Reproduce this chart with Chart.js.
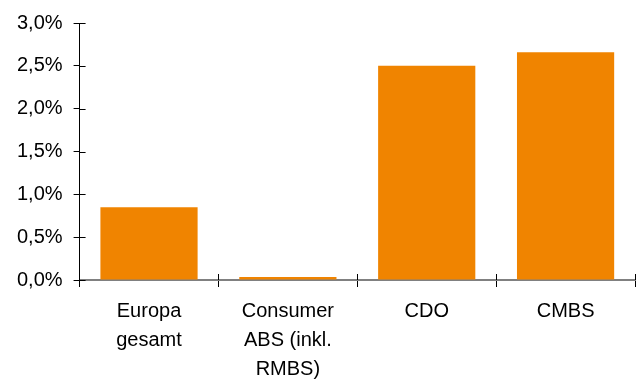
<!DOCTYPE html>
<html>
<head>
<meta charset="utf-8">
<script src="https://cdn.jsdelivr.net/npm/chart.js@4/dist/chart.umd.min.js"></script>
<style>
  html, body { margin: 0; padding: 0; background: #fff; }
  #wrap { width: 639px; height: 383px; }
</style>
</head>
<body>
<div id="wrap"><canvas id="chart" width="639" height="383"></canvas></div>
<script>
// categories and values (in %)
const categories = [
  ["Europa", "gesamt"],
  ["Consumer", "ABS (inkl.", "RMBS)"],
  "CDO",
  "CMBS"
];
const defaultRates = [0.85, 0.035, 2.50, 2.66];
const yMin = 0;
const yMax = 3;
const yStep = 0.5;

const barColor = "#F08400";
const fontFamily = "'Liberation Sans', Arial, sans-serif";

// the original ticks cross the axis, chart.js only draws the outer half
const innerTicks = {
  id: "innerTicks",
  afterDatasetsDraw(chart) {
    const { ctx, chartArea, scales } = chart;
    const len = 6;
    ctx.save();
    ctx.strokeStyle = "#000";
    ctx.lineWidth = 1;
    ctx.beginPath();
    scales.y.ticks.forEach((t, i) => {
      const y = Math.round(scales.y.getPixelForTick(i)) + 0.5;
      ctx.moveTo(chartArea.left, y);
      ctx.lineTo(chartArea.left + len, y);
    });
    for (let i = 1; i <= categories.length; i++) {
      const x = Math.round(scales.x.getPixelForValue(i - 0.5)) + 0.5;
      ctx.moveTo(x, chartArea.bottom);
      ctx.lineTo(x, chartArea.bottom - len);
    }
    ctx.stroke();
    ctx.restore();
  }
};

new Chart(document.getElementById("chart").getContext("2d"), {
  type: "bar",
  data: {
    labels: categories,
    datasets: [{
      data: defaultRates,
      backgroundColor: barColor,
      borderWidth: 0,
      categoryPercentage: 0.7,
      barPercentage: 1.0
    }]
  },
  options: {
    responsive: false,
    animation: false,
    layout: { padding: { left: 6, right: 4, top: 14, bottom: -11 } },
    plugins: {
      legend: { display: false },
      tooltip: { enabled: false }
    },
    scales: {
      x: {
        grid: {
          drawOnChartArea: false,
          drawTicks: true,
          tickLength: 7,
          tickColor: "#000"
        },
        border: { display: true, color: "#808080", width: 2 },
        ticks: {
          color: "#000",
          padding: 10,
          maxRotation: 0,
          autoSkip: false,
          font: { family: fontFamily, size: 20, lineHeight: 1.45 }
        }
      },
      y: {
        min: yMin,
        max: yMax,
        grid: {
          drawOnChartArea: false,
          drawTicks: true,
          tickLength: 6,
          tickColor: "#000"
        },
        border: { display: true, color: "#000", width: 1 },
        ticks: {
          stepSize: yStep,
          color: "#000",
          padding: 11,
          font: { family: fontFamily, size: 20 },
          callback: v => v.toFixed(1).replace(".", ",") + "%"
        }
      }
    }
  },
  plugins: [innerTicks]
});
</script>
</body>
</html>
